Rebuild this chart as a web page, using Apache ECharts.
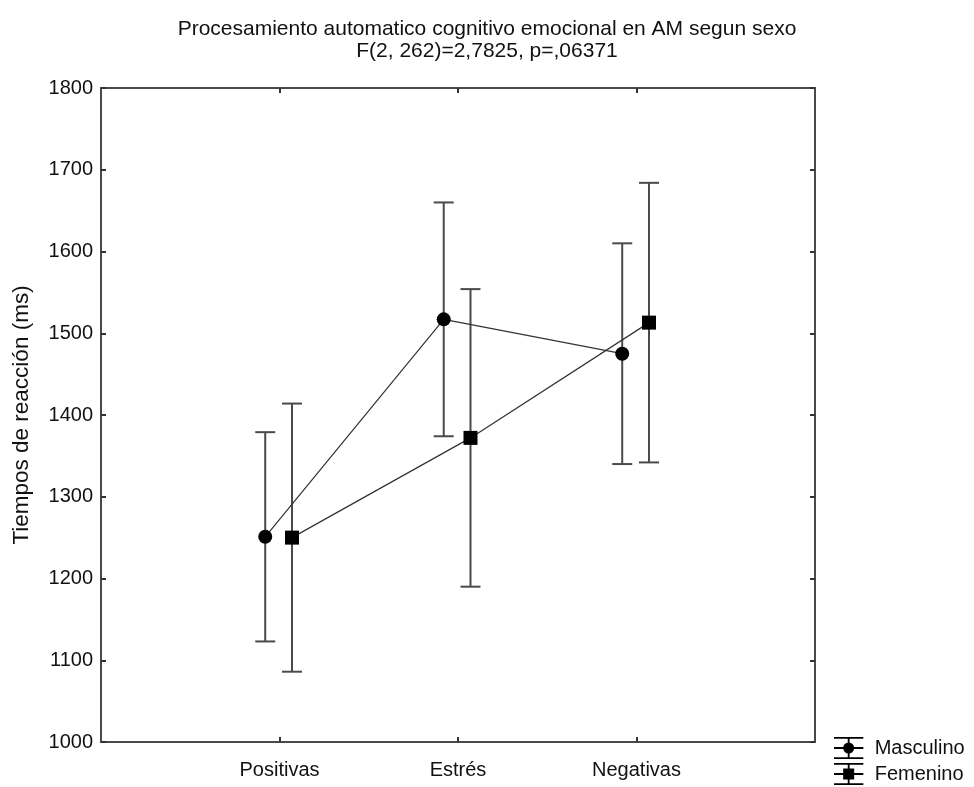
<!DOCTYPE html>
<html>
<head>
<meta charset="utf-8">
<script src="https://cdn.jsdelivr.net/npm/echarts@6/dist/echarts.min.js"></script>
<style>html,body{margin:0;padding:0;background:#fff}#c{width:974px;height:787px}</style>
</head>
<body>
<div id="c"></div>
<script>
var categories = ['Positivas', 'Estrés', 'Negativas'];
var categoryPositions = [1, 2, 3];
var masculinoMean = [1251, 1517, 1475];
var masculinoErr = [128, 143, 135];
var femeninoMean = [1250, 1372, 1513];
var femeninoErr = [164, 182, 171];
var yTicks = [1000, 1100, 1200, 1300, 1400, 1500, 1600, 1700, 1800];

var FONT = '"Liberation Sans", Arial, sans-serif';
var offM = -0.08, offF = 0.07;

function pts(mean, off) { return mean.map(function (v, i) { return [categoryPositions[i] + off, v]; }); }
function bars(mean, err, off) { return mean.map(function (v, i) { return [categoryPositions[i] + off, v - err[i], v + err[i]]; }); }

function errRender(params, api) {
  var x = api.value(0);
  var lo = api.coord([x, api.value(1)]);
  var hi = api.coord([x, api.value(2)]);
  var hw = 10;
  var st = { stroke: '#4a4a4a', lineWidth: 2 };
  return { type: 'group', children: [
    { type: 'line', shape: { x1: lo[0], y1: lo[1], x2: hi[0], y2: hi[1] }, style: st },
    { type: 'line', shape: { x1: lo[0] - hw, y1: lo[1], x2: lo[0] + hw, y2: lo[1] }, style: st },
    { type: 'line', shape: { x1: hi[0] - hw, y1: hi[1], x2: hi[0] + hw, y2: hi[1] }, style: st }
  ]};
}

var base = 'M0,0H32V2H0Z M0,22H32V24H0Z M0,11H32V13H0Z M15,0H17V24H15Z ';
var iconM = 'path://' + base + 'M10,12A6,6 0 1,1 22,12A6,6 0 1,1 10,12Z';
var iconF = 'path://' + base + 'M10,6H22V18H10Z';

var axisLine = { show: true, onZero: false, lineStyle: { color: '#4a4a4a', width: 2 } };
var tickIn = { show: true, inside: true, length: 5, lineStyle: { color: '#333', width: 2 } };

var chart = echarts.init(document.getElementById('c'));
chart.setOption({
  animation: false,
  backgroundColor: '#fff',
  title: {
    text: 'Procesamiento automatico cognitivo emocional en AM segun sexo\nF(2, 262)=2,7825, p=,06371',
    left: 'center', top: 13,
    textStyle: { fontFamily: FONT, fontSize: 21, fontWeight: 'normal', color: '#111', lineHeight: 22 }
  },
  grid: { left: 101, right: 159, top: 88, bottom: 45 },
  legend: {
    orient: 'vertical', left: 834, top: 737, height: 100, padding: 0,
    itemWidth: 32, itemHeight: 22, itemGap: 4,
    textStyle: { fontFamily: FONT, fontSize: 20, color: '#111', lineHeight: 22, padding: [0, 0, 0, 5] },
    data: [{ name: 'Masculino', icon: iconM }, { name: 'Femenino', icon: iconF }]
  },
  xAxis: [
    { type: 'value', min: 0, max: 4, interval: 1, position: 'bottom',
      axisLine: axisLine, splitLine: { show: false },
      axisTick: Object.assign({ customValues: categoryPositions }, tickIn),
      axisLabel: { customValues: categoryPositions, margin: 18, fontFamily: FONT, fontSize: 20, color: '#111',
        formatter: function (v) { return categories[Math.round(v) - 1] || ''; } } },
    { type: 'value', min: 0, max: 4, interval: 1, position: 'top',
      axisLine: axisLine, splitLine: { show: false },
      axisTick: Object.assign({ customValues: categoryPositions }, tickIn),
      axisLabel: { show: false } }
  ],
  yAxis: [
    { type: 'value', min: yTicks[0], max: yTicks[yTicks.length - 1], interval: 100, position: 'left',
      axisLine: axisLine, splitLine: { show: false }, axisTick: tickIn,
      axisLabel: { margin: 8, fontFamily: FONT, fontSize: 20, color: '#111',
        formatter: function (v) { return String(v); } },
      name: 'Tiempos de reacción (ms)', nameLocation: 'middle', nameGap: 68,
      nameTextStyle: { fontFamily: FONT, fontSize: 22.5, color: '#111' } },
    { type: 'value', min: yTicks[0], max: yTicks[yTicks.length - 1], interval: 100, position: 'right',
      axisLine: axisLine, splitLine: { show: false }, axisTick: tickIn, axisLabel: { show: false } }
  ],
  series: [
    { name: 'Masculino', type: 'custom', renderItem: errRender, data: bars(masculinoMean, masculinoErr, offM),
      encode: { x: 0, y: [1, 2] }, z: 1, color: '#000', silent: true },
    { name: 'Femenino', type: 'custom', renderItem: errRender, data: bars(femeninoMean, femeninoErr, offF),
      encode: { x: 0, y: [1, 2] }, z: 1, color: '#000', silent: true },
    { name: 'Masculino', type: 'line', data: pts(masculinoMean, offM), symbol: 'circle', symbolSize: 14,
      lineStyle: { color: '#333', width: 1.2 }, itemStyle: { color: '#000' }, z: 3 },
    { name: 'Femenino', type: 'line', data: pts(femeninoMean, offF), symbol: 'rect', symbolSize: 14,
      lineStyle: { color: '#333', width: 1.2 }, itemStyle: { color: '#000' }, z: 3 }
  ]
});
</script>
</body>
</html>
